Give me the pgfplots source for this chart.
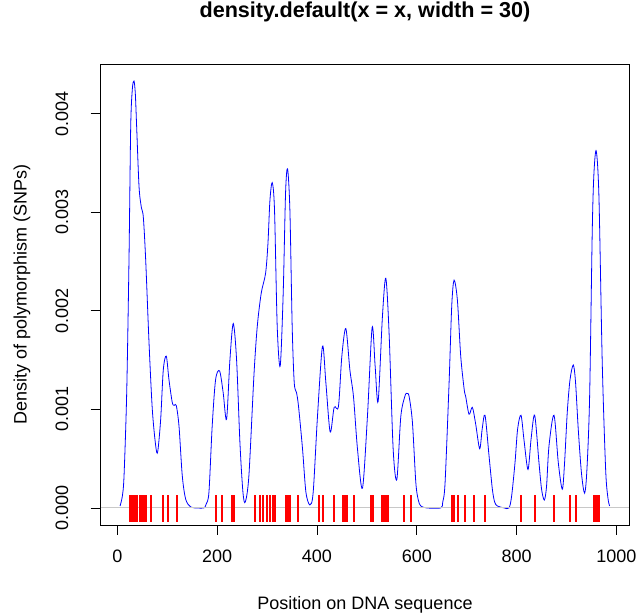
\documentclass[border=0pt]{standalone}
\usepackage{pgfplots}
\pgfplotsset{compat=1.18}
\usepackage{fontspec}
\setmainfont{Liberation Sans}
\definecolor{zerogray}{RGB}{200,200,200}
\definecolor{rugred}{RGB}{255,0,0}
\begin{document}
\begin{tikzpicture}
\path[use as bounding box, fill=white] (0,0) rectangle (638pt,615pt);
\begin{axis}[
  at={(100.7pt,90pt)}, anchor=south west,
  width=528.6pt, height=461pt, scale only axis,
  xmin=-33.4, xmax=1025.8, ymin=-0.0001732, ymax=0.0045032,
  axis line style={black, line width=0.75pt},
  tick align=outside, major tick length=10pt,
  tick style={black, line width=0.75pt},
  xtick={0,200,400,600,800,1000}, ytick={0,0.001,0.002,0.003,0.004},
  xtick pos=left, ytick pos=left,
  scaled y ticks=false, scaled x ticks=false,
  /pgf/number format/assume math mode=true,
  /pgf/number format/1000 sep={},
  yticklabel={\pgfmathprintnumber[fixed,fixed zerofill,precision=3]{\tick}},
  tick label style={font=\fontsize{18}{21}\selectfont},
  xticklabel style={anchor=center, yshift=-21pt},
  yticklabel style={xshift=-28.7pt, rotate=90, anchor=center},
  title={density.default(x = x, width = 30)},
  title style={at={(axis description cs:0.5,1.0998)}, anchor=center, font=\bfseries\fontsize{21.6}{25}\selectfont},
  xlabel={Position on DNA sequence},
  xlabel style={at={(axis description cs:0.5,-0.1735)}, anchor=center, font=\fontsize{18}{21}\selectfont},
  ylabel={Density of polymorphism (SNPs)},
  ylabel style={at={(axis description cs:-0.1489,0.5)}, anchor=center, font=\fontsize{18}{21}\selectfont},
  clip=true,
]
\addplot[blue, line width=0.8pt, smooth, tension=0.5] coordinates {
(5.4,0.00002) (10,0.00012) (13.4,0.00033) (18.7,0.00117) (23.3,0.00252) (26.7,0.00386)
(30,0.00425) (33.3,0.00433) (36,0.00420) (38.7,0.00386) (43.4,0.00326) (48,0.00305)
(52,0.00295) (56.7,0.00252) (63.4,0.00168) (70,0.0010) (76.8,0.00063) (80.8,0.00057)
(86.8,0.0009) (92,0.0014) (98,0.00154) (103.4,0.0013) (110,0.00107) (114,0.00104)
(118,0.00104) (123.5,0.00083) (130,0.00033) (136.8,0.00009) (146.8,0.00001) (160,0)
(173.5,0) (178,0.00004) (183.5,0.00016) (190,0.00083) (196.8,0.0013) (204.8,0.00139)
(212,0.00117) (218.8,0.0009) (225.5,0.0015) (232.2,0.00187) (238.9,0.0015) (245.6,0.00066)
(251.6,0.00016) (256.3,0.00006) (263.6,0.00033) (273.6,0.00134) (280.3,0.00184) (288.3,0.00218)
(297,0.00238) (301.7,0.00268) (305.7,0.00312) (310.3,0.0033) (314.9,0.00302) (320.3,0.00184)
(326.3,0.00144) (332.3,0.00218) (337,0.00319) (341,0.00344) (345.7,0.00302) (350.3,0.00184)
(354.4,0.00127) (359,0.00117) (363,0.00103) (371,0.0006) (377.8,0.00016) (385.8,0.00003)
(392.4,0.00016) (401,0.00093) (411,0.00164) (417.8,0.00127) (426.4,0.00077) (434.4,0.00102)
(443,0.00103) (449.8,0.00154) (457.8,0.00182) (465.9,0.0014) (473.1,0.00113) (481.1,0.0006)
(491.1,0.0002) (501.1,0.00093) (510.5,0.00183) (516.5,0.00144) (522.5,0.00108) (531.1,0.00194)
(537.9,0.00233) (544.5,0.00177) (552.6,0.0006) (560,0.00029) (568,0.00093) (576.6,0.00114)
(580.6,0.00116) (584.6,0.00113) (591.2,0.00087) (598,0.00026) (603,0.00008) (608,0.00002)
(620,0) (648,0) (652,0.00006) (656.7,0.00026) (664.7,0.00127) (670,0.00205)
(674.7,0.00231) (681.3,0.00211) (688,0.00154) (695,0.0012) (698,0.00113) (704.7,0.00095)
(711.3,0.00102) (718,0.00085) (726,0.0006) (731,0.0008) (736.7,0.00094) (744.7,0.00053)
(751.4,0.00019) (756,0.00006) (761.4,0.00002) (775,0) (784.8,0) (790,0.00012)
(796.8,0.00046) (802,0.00080) (808.8,0.00094) (815,0.00068) (822.8,0.00039) (829,0.0007)
(836.2,0.00094) (844.8,0.00046) (850,0.00019) (855.5,0.00008) (860,0.00022) (864.9,0.00063)
(874.9,0.00094) (883.5,0.00046) (891.5,0.00019) (896,0.00045) (901.5,0.00097) (907,0.00130)
(913.5,0.00145) (918,0.00128) (923.5,0.0008) (930,0.00035) (936.3,0.00015) (941,0.00040)
(946.3,0.00113) (951.6,0.00282) (955,0.00340) (959.6,0.00362) (965,0.00315) (971.6,0.00147)
(978.4,0.00039) (983,0.00010) (986.4,0.00002)
};
\addplot[zerogray, line width=1pt] coordinates {(-33.4,0) (1025.8,0)};
\addplot[only marks, mark=|, mark size=13.5pt, color=rugred, mark options={draw=rugred, line width=2pt}] coordinates {
(25,-0.00001) (28,-0.00001) (30,-0.00001) (34,-0.00001) (37,-0.00001) (40,-0.00001)
(46,-0.00001) (49,-0.00001) (53,-0.00001) (57,-0.00001) (68,-0.00001) (92,-0.00001)
(102,-0.00001) (120,-0.00001) (197,-0.00001) (209,-0.00001) (230,-0.00001) (234,-0.00001)
(276,-0.00001) (286,-0.00001) (291,-0.00001) (300,-0.00001) (305,-0.00001) (311,-0.00001)
(316,-0.00001) (337,-0.00001) (341,-0.00001) (346,-0.00001) (362,-0.00001) (405,-0.00001)
(412,-0.00001) (435,-0.00001) (453,-0.00001) (457,-0.00001) (461,-0.00001) (474,-0.00001)
(509,-0.00001) (513,-0.00001) (531,-0.00001) (535,-0.00001) (538,-0.00001) (543,-0.00001)
(574,-0.00001) (588,-0.00001) (670,-0.00001) (674,-0.00001) (682,-0.00001) (697,-0.00001)
(714,-0.00001) (736,-0.00001) (808,-0.00001) (836,-0.00001) (875,-0.00001) (907,-0.00001)
(918,-0.00001) (955,-0.00001) (958,-0.00001) (961,-0.00001) (965,-0.00001)
};
\end{axis}
\end{tikzpicture}
\end{document}
